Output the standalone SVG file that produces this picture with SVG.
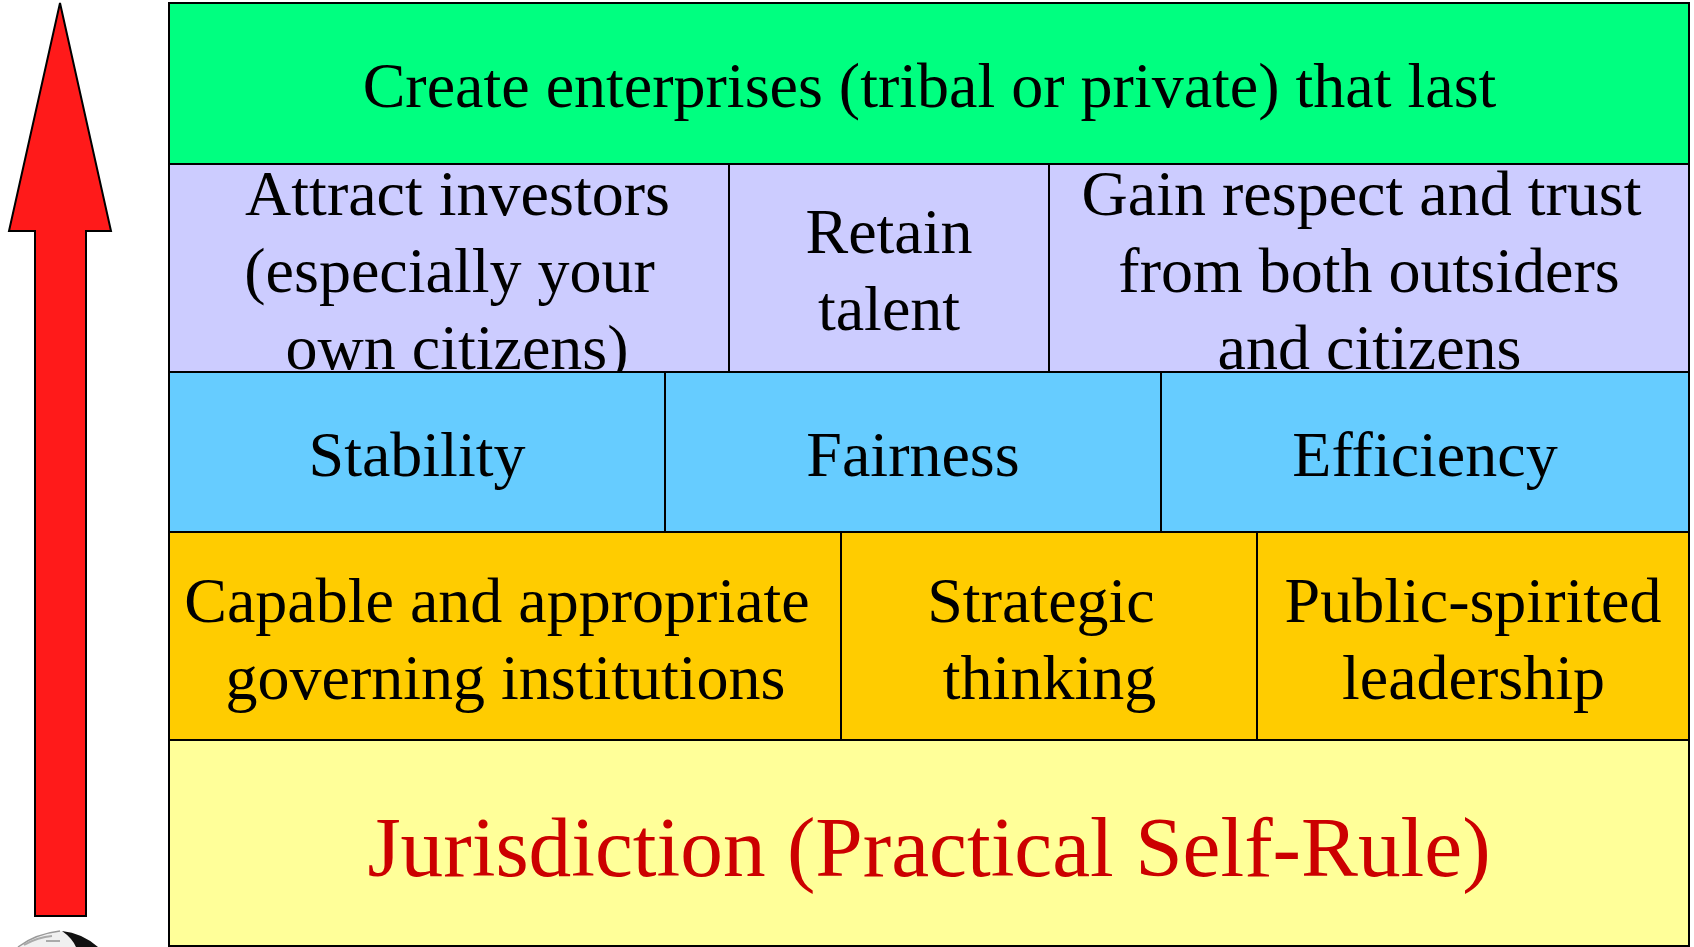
<svg xmlns="http://www.w3.org/2000/svg" width="1694" height="947" viewBox="0 0 1694 947">
<style>
.b{stroke:#000;stroke-width:2}
text{font-family:"Liberation Serif","Times New Roman",serif;font-size:64px;fill:#000;text-anchor:middle}
.g{fill:#00ff80}.l{fill:#ccccff}.c{fill:#66ccff}.o{fill:#ffcc00}.y{fill:#ffff99}
</style>
<rect width="1694" height="947" fill="#fff"/>
<g id="arrow"><path class="b" fill="#ff1a1a" d="M60 3L111 231H86V916H35V231H9Z"/></g>
<g id="globe"><path d="M18 947Q35 934 60 931Q82 933 98 947Z" fill="#f0f0f0"/><path d="M18 947Q35 934 60 931" fill="none" stroke="#999" stroke-width="1.500"/><path d="M24 945Q38 937 52 936M46 941H60" fill="none" stroke="#aaa" stroke-width="2"/><path d="M62 931Q82 933 98 947H76Q72 938 62 931Z" fill="#111"/></g>
<g id="n1"><rect class="b g" x="169" y="3" width="1520" height="161"/><text x="929.500" y="107">Create enterprises (tribal or private) that last</text></g>
<g id="n2"><rect class="b l" x="169" y="164" width="560" height="208"/><text x="457.500" y="214.500">Attract investors</text><text x="449.500" y="291.500">(especially your</text><text x="457" y="368.500">own citizens)</text></g>
<g id="n3"><rect class="b l" x="729" y="164" width="320" height="208"/><text x="889" y="253">Retain</text><text x="889" y="330">talent</text></g>
<g id="n4"><rect class="b l" x="1049" y="164" width="640" height="208"/><text x="1361.500" y="214.500">Gain respect and trust</text><text x="1369" y="291.500">from both outsiders</text><text x="1369.500" y="368.500">and citizens</text></g>
<g id="n5"><rect class="b c" x="169" y="372" width="496" height="160"/><text x="417" y="475.500">Stability</text></g>
<g id="n6"><rect class="b c" x="665" y="372" width="496" height="160"/><text x="913" y="475.500">Fairness</text></g>
<g id="n7"><rect class="b c" x="1161" y="372" width="528" height="160"/><text x="1425" y="475.500">Efficiency</text></g>
<g id="n8"><rect class="b o" x="169" y="532" width="672" height="208"/><text x="497" y="621.500">Capable and appropriate</text><text x="505.500" y="698.500">governing institutions</text></g>
<g id="n9"><rect class="b o" x="841" y="532" width="416" height="208"/><text x="1041" y="621.500">Strategic</text><text x="1049.500" y="698.500">thinking</text></g>
<g id="n10"><rect class="b o" x="1257" y="532" width="432" height="208"/><text x="1473" y="621.500">Public-spirited</text><text x="1473.500" y="698.500">leadership</text></g>
<g id="n11"><rect class="b y" x="169" y="740" width="1520" height="206"/><text x="929" y="876" style="font-size:85.330px;fill:#cc0000">Jurisdiction (Practical Self-Rule)</text></g>
</svg>
